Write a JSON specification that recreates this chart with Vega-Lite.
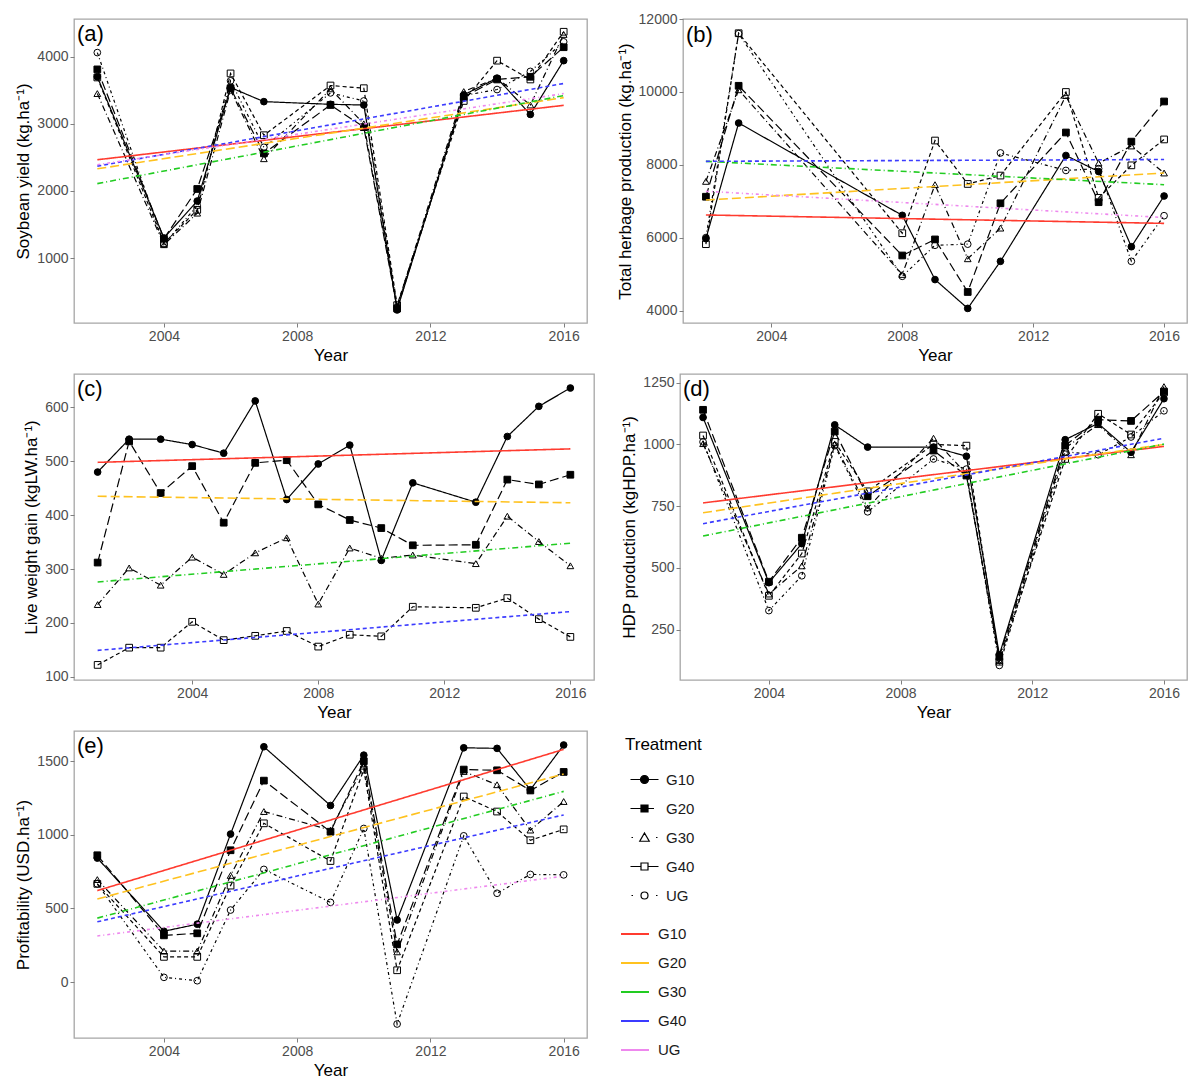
{
"$schema": "https://vega.github.io/schema/vega-lite/v6.json",
"padding": {"left": 14, "top": 11, "right": 0, "bottom": 0},
"background": "white",
"config": {
  "font": "Liberation Sans",
  "view": {"stroke": "#a6a6a6", "strokeWidth": 1.3},
  "axis": {"domain": false, "grid": false, "tickColor": "#7f7f7f", "tickSize": 4, "labelColor": "#4d4d4d", "labelFontSize": 14, "labelFont": "Liberation Sans", "titleFont": "Liberation Sans", "titleFontSize": 17, "titleFontWeight": "normal", "titleColor": "black", "labelPadding": 2, "titlePadding": 4, "labelFlush": false},
  "legend": {"labelFont": "Liberation Sans", "titleFont": "Liberation Sans"}
},
"datasets": {
"sa": [
{"Year":2002,"Treatment":"G10","Value":3700},{"Year":2004,"Treatment":"G10","Value":1300},{"Year":2005,"Treatment":"G10","Value":1850},{"Year":2006,"Treatment":"G10","Value":3540},{"Year":2007,"Treatment":"G10","Value":3330},{"Year":2009,"Treatment":"G10","Value":3290},{"Year":2010,"Treatment":"G10","Value":3280},{"Year":2011,"Treatment":"G10","Value":230},{"Year":2013,"Treatment":"G10","Value":3430},{"Year":2014,"Treatment":"G10","Value":3680},{"Year":2015,"Treatment":"G10","Value":3140},{"Year":2016,"Treatment":"G10","Value":3940},
{"Year":2002,"Treatment":"G20","Value":3810},{"Year":2004,"Treatment":"G20","Value":1290},{"Year":2005,"Treatment":"G20","Value":2030},{"Year":2006,"Treatment":"G20","Value":3530},{"Year":2007,"Treatment":"G20","Value":2560},{"Year":2009,"Treatment":"G20","Value":3280},{"Year":2010,"Treatment":"G20","Value":2950},{"Year":2011,"Treatment":"G20","Value":250},{"Year":2013,"Treatment":"G20","Value":3400},{"Year":2014,"Treatment":"G20","Value":3660},{"Year":2015,"Treatment":"G20","Value":3700},{"Year":2016,"Treatment":"G20","Value":4140},
{"Year":2002,"Treatment":"G30","Value":3450},{"Year":2004,"Treatment":"G30","Value":1200},{"Year":2005,"Treatment":"G30","Value":1670},{"Year":2006,"Treatment":"G30","Value":3500},{"Year":2007,"Treatment":"G30","Value":2480},{"Year":2009,"Treatment":"G30","Value":3520},{"Year":2010,"Treatment":"G30","Value":3000},{"Year":2011,"Treatment":"G30","Value":280},{"Year":2013,"Treatment":"G30","Value":3480},{"Year":2014,"Treatment":"G30","Value":3680},{"Year":2015,"Treatment":"G30","Value":3280},{"Year":2016,"Treatment":"G30","Value":4330},
{"Year":2002,"Treatment":"G40","Value":3690},{"Year":2004,"Treatment":"G40","Value":1220},{"Year":2005,"Treatment":"G40","Value":1720},{"Year":2006,"Treatment":"G40","Value":3750},{"Year":2007,"Treatment":"G40","Value":2830},{"Year":2009,"Treatment":"G40","Value":3570},{"Year":2010,"Treatment":"G40","Value":3530},{"Year":2011,"Treatment":"G40","Value":300},{"Year":2013,"Treatment":"G40","Value":3340},{"Year":2014,"Treatment":"G40","Value":3940},{"Year":2015,"Treatment":"G40","Value":3660},{"Year":2016,"Treatment":"G40","Value":4370},
{"Year":2002,"Treatment":"UG","Value":4060},{"Year":2004,"Treatment":"UG","Value":1210},{"Year":2005,"Treatment":"UG","Value":1780},{"Year":2006,"Treatment":"UG","Value":3640},{"Year":2007,"Treatment":"UG","Value":2650},{"Year":2009,"Treatment":"UG","Value":3460},{"Year":2010,"Treatment":"UG","Value":3340},{"Year":2011,"Treatment":"UG","Value":270},{"Year":2013,"Treatment":"UG","Value":3420},{"Year":2014,"Treatment":"UG","Value":3510},{"Year":2015,"Treatment":"UG","Value":3780},{"Year":2016,"Treatment":"UG","Value":4220}
],
"ta": [
{"Year":2002,"Trend":"G10","Value":2465},{"Year":2016,"Trend":"G10","Value":3275},
{"Year":2002,"Trend":"G20","Value":2330},{"Year":2016,"Trend":"G20","Value":3390},
{"Year":2002,"Trend":"G30","Value":2110},{"Year":2016,"Trend":"G30","Value":3420},
{"Year":2002,"Trend":"G40","Value":2370},{"Year":2016,"Trend":"G40","Value":3600},
{"Year":2002,"Trend":"UG","Value":2390},{"Year":2016,"Trend":"UG","Value":3450}
],
"sb": [
{"Year":2002,"Treatment":"G10","Value":5980},{"Year":2003,"Treatment":"G10","Value":9150},{"Year":2008,"Treatment":"G10","Value":6620},{"Year":2009,"Treatment":"G10","Value":4860},{"Year":2010,"Treatment":"G10","Value":4070},{"Year":2011,"Treatment":"G10","Value":5360},{"Year":2013,"Treatment":"G10","Value":8260},{"Year":2014,"Treatment":"G10","Value":7820},{"Year":2015,"Treatment":"G10","Value":5760},{"Year":2016,"Treatment":"G10","Value":7150},
{"Year":2002,"Treatment":"G20","Value":7130},{"Year":2003,"Treatment":"G20","Value":10170},{"Year":2008,"Treatment":"G20","Value":5520},{"Year":2009,"Treatment":"G20","Value":5960},{"Year":2010,"Treatment":"G20","Value":4520},{"Year":2011,"Treatment":"G20","Value":6950},{"Year":2013,"Treatment":"G20","Value":8890},{"Year":2014,"Treatment":"G20","Value":6980},{"Year":2015,"Treatment":"G20","Value":8640},{"Year":2016,"Treatment":"G20","Value":9740},
{"Year":2002,"Treatment":"G30","Value":7550},{"Year":2003,"Treatment":"G30","Value":10060},{"Year":2008,"Treatment":"G30","Value":5000},{"Year":2009,"Treatment":"G30","Value":7460},{"Year":2010,"Treatment":"G30","Value":5430},{"Year":2011,"Treatment":"G30","Value":6270},{"Year":2013,"Treatment":"G30","Value":9900},{"Year":2014,"Treatment":"G30","Value":8050},{"Year":2015,"Treatment":"G30","Value":8520},{"Year":2016,"Treatment":"G30","Value":7780},
{"Year":2002,"Treatment":"G40","Value":5830},{"Year":2003,"Treatment":"G40","Value":11610},{"Year":2008,"Treatment":"G40","Value":6130},{"Year":2009,"Treatment":"G40","Value":8670},{"Year":2010,"Treatment":"G40","Value":7480},{"Year":2011,"Treatment":"G40","Value":7710},{"Year":2013,"Treatment":"G40","Value":10000},{"Year":2014,"Treatment":"G40","Value":7100},{"Year":2015,"Treatment":"G40","Value":7990},{"Year":2016,"Treatment":"G40","Value":8700},
{"Year":2002,"Treatment":"UG","Value":6010},{"Year":2003,"Treatment":"UG","Value":11600},{"Year":2008,"Treatment":"UG","Value":4950},{"Year":2009,"Treatment":"UG","Value":5800},{"Year":2010,"Treatment":"UG","Value":5830},{"Year":2011,"Treatment":"UG","Value":8330},{"Year":2013,"Treatment":"UG","Value":7850},{"Year":2014,"Treatment":"UG","Value":7900},{"Year":2015,"Treatment":"UG","Value":5360},{"Year":2016,"Treatment":"UG","Value":6610}
],
"tb": [
{"Year":2002,"Trend":"G10","Value":6630},{"Year":2016,"Trend":"G10","Value":6400},
{"Year":2002,"Trend":"G20","Value":7040},{"Year":2016,"Trend":"G20","Value":7780},
{"Year":2002,"Trend":"G30","Value":8100},{"Year":2016,"Trend":"G30","Value":7460},
{"Year":2002,"Trend":"G40","Value":8100},{"Year":2016,"Trend":"G40","Value":8150},
{"Year":2002,"Trend":"UG","Value":7280},{"Year":2016,"Trend":"UG","Value":6560}
],
"sc": [
{"Year":2001,"Treatment":"G10","Value":480},{"Year":2002,"Treatment":"G10","Value":541},{"Year":2003,"Treatment":"G10","Value":541},{"Year":2004,"Treatment":"G10","Value":531},{"Year":2005,"Treatment":"G10","Value":515},{"Year":2006,"Treatment":"G10","Value":612},{"Year":2007,"Treatment":"G10","Value":429},{"Year":2008,"Treatment":"G10","Value":495},{"Year":2009,"Treatment":"G10","Value":530},{"Year":2010,"Treatment":"G10","Value":316},{"Year":2011,"Treatment":"G10","Value":460},{"Year":2013,"Treatment":"G10","Value":424},{"Year":2014,"Treatment":"G10","Value":546},{"Year":2015,"Treatment":"G10","Value":602},{"Year":2016,"Treatment":"G10","Value":636},
{"Year":2001,"Treatment":"G20","Value":312},{"Year":2002,"Treatment":"G20","Value":537},{"Year":2003,"Treatment":"G20","Value":441},{"Year":2004,"Treatment":"G20","Value":491},{"Year":2005,"Treatment":"G20","Value":386},{"Year":2006,"Treatment":"G20","Value":497},{"Year":2007,"Treatment":"G20","Value":502},{"Year":2008,"Treatment":"G20","Value":420},{"Year":2009,"Treatment":"G20","Value":391},{"Year":2010,"Treatment":"G20","Value":376},{"Year":2011,"Treatment":"G20","Value":344},{"Year":2013,"Treatment":"G20","Value":345},{"Year":2014,"Treatment":"G20","Value":466},{"Year":2015,"Treatment":"G20","Value":457},{"Year":2016,"Treatment":"G20","Value":475},
{"Year":2001,"Treatment":"G30","Value":234},{"Year":2002,"Treatment":"G30","Value":302},{"Year":2003,"Treatment":"G30","Value":270},{"Year":2004,"Treatment":"G30","Value":322},{"Year":2005,"Treatment":"G30","Value":290},{"Year":2006,"Treatment":"G30","Value":330},{"Year":2007,"Treatment":"G30","Value":358},{"Year":2008,"Treatment":"G30","Value":235},{"Year":2009,"Treatment":"G30","Value":339},{"Year":2010,"Treatment":"G30","Value":320},{"Year":2011,"Treatment":"G30","Value":326},{"Year":2013,"Treatment":"G30","Value":310},{"Year":2014,"Treatment":"G30","Value":398},{"Year":2015,"Treatment":"G30","Value":351},{"Year":2016,"Treatment":"G30","Value":306},
{"Year":2001,"Treatment":"G40","Value":122},{"Year":2002,"Treatment":"G40","Value":154},{"Year":2003,"Treatment":"G40","Value":154},{"Year":2004,"Treatment":"G40","Value":202},{"Year":2005,"Treatment":"G40","Value":168},{"Year":2006,"Treatment":"G40","Value":176},{"Year":2007,"Treatment":"G40","Value":185},{"Year":2008,"Treatment":"G40","Value":156},{"Year":2009,"Treatment":"G40","Value":178},{"Year":2010,"Treatment":"G40","Value":175},{"Year":2011,"Treatment":"G40","Value":230},{"Year":2013,"Treatment":"G40","Value":228},{"Year":2014,"Treatment":"G40","Value":246},{"Year":2015,"Treatment":"G40","Value":207},{"Year":2016,"Treatment":"G40","Value":174}
],
"tc": [
{"Year":2001,"Trend":"G10","Value":498},{"Year":2016,"Trend":"G10","Value":523},
{"Year":2001,"Trend":"G20","Value":435},{"Year":2016,"Trend":"G20","Value":423},
{"Year":2001,"Trend":"G30","Value":276},{"Year":2016,"Trend":"G30","Value":348},
{"Year":2001,"Trend":"G40","Value":149},{"Year":2016,"Trend":"G40","Value":221}
],
"sd": [
{"Year":2002,"Treatment":"G10","Value":1109},{"Year":2004,"Treatment":"G10","Value":440},{"Year":2005,"Treatment":"G10","Value":598},{"Year":2006,"Treatment":"G10","Value":1079},{"Year":2007,"Treatment":"G10","Value":989},{"Year":2009,"Treatment":"G10","Value":989},{"Year":2010,"Treatment":"G10","Value":952},{"Year":2011,"Treatment":"G10","Value":148},{"Year":2013,"Treatment":"G10","Value":1019},{"Year":2014,"Treatment":"G10","Value":1085},{"Year":2015,"Treatment":"G10","Value":968},{"Year":2016,"Treatment":"G10","Value":1185},
{"Year":2002,"Treatment":"G20","Value":1140},{"Year":2004,"Treatment":"G20","Value":444},{"Year":2005,"Treatment":"G20","Value":622},{"Year":2006,"Treatment":"G20","Value":1052},{"Year":2007,"Treatment":"G20","Value":790},{"Year":2009,"Treatment":"G20","Value":975},{"Year":2010,"Treatment":"G20","Value":874},{"Year":2011,"Treatment":"G20","Value":140},{"Year":2013,"Treatment":"G20","Value":995},{"Year":2014,"Treatment":"G20","Value":1100},{"Year":2015,"Treatment":"G20","Value":1095},{"Year":2016,"Treatment":"G20","Value":1214},
{"Year":2002,"Treatment":"G30","Value":1003},{"Year":2004,"Treatment":"G30","Value":394},{"Year":2005,"Treatment":"G30","Value":508},{"Year":2006,"Treatment":"G30","Value":1000},{"Year":2007,"Treatment":"G30","Value":743},{"Year":2009,"Treatment":"G30","Value":1025},{"Year":2010,"Treatment":"G30","Value":880},{"Year":2011,"Treatment":"G30","Value":125},{"Year":2013,"Treatment":"G30","Value":985},{"Year":2014,"Treatment":"G30","Value":1080},{"Year":2015,"Treatment":"G30","Value":958},{"Year":2016,"Treatment":"G30","Value":1234},
{"Year":2002,"Treatment":"G40","Value":1036},{"Year":2004,"Treatment":"G40","Value":387},{"Year":2005,"Treatment":"G40","Value":558},{"Year":2006,"Treatment":"G40","Value":1010},{"Year":2007,"Treatment":"G40","Value":810},{"Year":2009,"Treatment":"G40","Value":1000},{"Year":2010,"Treatment":"G40","Value":995},{"Year":2011,"Treatment":"G40","Value":120},{"Year":2013,"Treatment":"G40","Value":941},{"Year":2014,"Treatment":"G40","Value":1124},{"Year":2015,"Treatment":"G40","Value":1040},{"Year":2016,"Treatment":"G40","Value":1210},
{"Year":2002,"Treatment":"UG","Value":1010},{"Year":2004,"Treatment":"UG","Value":327},{"Year":2005,"Treatment":"UG","Value":468},{"Year":2006,"Treatment":"UG","Value":995},{"Year":2007,"Treatment":"UG","Value":727},{"Year":2009,"Treatment":"UG","Value":941},{"Year":2010,"Treatment":"UG","Value":900},{"Year":2011,"Treatment":"UG","Value":105},{"Year":2013,"Treatment":"UG","Value":970},{"Year":2014,"Treatment":"UG","Value":958},{"Year":2015,"Treatment":"UG","Value":1030},{"Year":2016,"Treatment":"UG","Value":1136}
],
"td": [
{"Year":2002,"Trend":"G10","Value":763},{"Year":2016,"Trend":"G10","Value":992},
{"Year":2002,"Trend":"G20","Value":723},{"Year":2016,"Trend":"G20","Value":1000},
{"Year":2002,"Trend":"G30","Value":629},{"Year":2016,"Trend":"G30","Value":1001},
{"Year":2002,"Trend":"G40","Value":679},{"Year":2016,"Trend":"G40","Value":1025},
{"Year":2002,"Trend":"UG","Value":653},{"Year":2016,"Trend":"UG","Value":944}
],
"se": [
{"Year":2002,"Treatment":"G10","Value":842},{"Year":2004,"Treatment":"G10","Value":345},{"Year":2005,"Treatment":"G10","Value":393},{"Year":2006,"Treatment":"G10","Value":1005},{"Year":2007,"Treatment":"G10","Value":1598},{"Year":2009,"Treatment":"G10","Value":1199},{"Year":2010,"Treatment":"G10","Value":1541},{"Year":2011,"Treatment":"G10","Value":422},{"Year":2013,"Treatment":"G10","Value":1591},{"Year":2014,"Treatment":"G10","Value":1587},{"Year":2015,"Treatment":"G10","Value":1306},{"Year":2016,"Treatment":"G10","Value":1610},
{"Year":2002,"Treatment":"G20","Value":861},{"Year":2004,"Treatment":"G20","Value":317},{"Year":2005,"Treatment":"G20","Value":331},{"Year":2006,"Treatment":"G20","Value":895},{"Year":2007,"Treatment":"G20","Value":1368},{"Year":2009,"Treatment":"G20","Value":1021},{"Year":2010,"Treatment":"G20","Value":1500},{"Year":2011,"Treatment":"G20","Value":256},{"Year":2013,"Treatment":"G20","Value":1443},{"Year":2014,"Treatment":"G20","Value":1438},{"Year":2015,"Treatment":"G20","Value":1301},{"Year":2016,"Treatment":"G20","Value":1427},
{"Year":2002,"Treatment":"G30","Value":696},{"Year":2004,"Treatment":"G30","Value":210},{"Year":2005,"Treatment":"G30","Value":210},{"Year":2006,"Treatment":"G30","Value":724},{"Year":2007,"Treatment":"G30","Value":1158},{"Year":2009,"Treatment":"G30","Value":1032},{"Year":2010,"Treatment":"G30","Value":1466},{"Year":2011,"Treatment":"G30","Value":205},{"Year":2013,"Treatment":"G30","Value":1430},{"Year":2014,"Treatment":"G30","Value":1340},{"Year":2015,"Treatment":"G30","Value":1032},{"Year":2016,"Treatment":"G30","Value":1226},
{"Year":2002,"Treatment":"G40","Value":667},{"Year":2004,"Treatment":"G40","Value":171},{"Year":2005,"Treatment":"G40","Value":171},{"Year":2006,"Treatment":"G40","Value":655},{"Year":2007,"Treatment":"G40","Value":1078},{"Year":2009,"Treatment":"G40","Value":822},{"Year":2010,"Treatment":"G40","Value":1443},{"Year":2011,"Treatment":"G40","Value":80},{"Year":2013,"Treatment":"G40","Value":1260},{"Year":2014,"Treatment":"G40","Value":1158},{"Year":2015,"Treatment":"G40","Value":963},{"Year":2016,"Treatment":"G40","Value":1037},
{"Year":2002,"Treatment":"UG","Value":667},{"Year":2004,"Treatment":"UG","Value":32},{"Year":2005,"Treatment":"UG","Value":9},{"Year":2006,"Treatment":"UG","Value":489},{"Year":2007,"Treatment":"UG","Value":765},{"Year":2009,"Treatment":"UG","Value":541},{"Year":2010,"Treatment":"UG","Value":1043},{"Year":2011,"Treatment":"UG","Value":-285},{"Year":2013,"Treatment":"UG","Value":993},{"Year":2014,"Treatment":"UG","Value":603},{"Year":2015,"Treatment":"UG","Value":731},{"Year":2016,"Treatment":"UG","Value":728}
],
"te": [
{"Year":2002,"Trend":"G10","Value":621},{"Year":2016,"Trend":"G10","Value":1580},
{"Year":2002,"Trend":"G20","Value":564},{"Year":2016,"Trend":"G20","Value":1413},
{"Year":2002,"Trend":"G30","Value":434},{"Year":2016,"Trend":"G30","Value":1295},
{"Year":2002,"Trend":"G40","Value":409},{"Year":2016,"Trend":"G40","Value":1135},
{"Year":2002,"Trend":"UG","Value":313},{"Year":2016,"Trend":"UG","Value":719}
]
},
"resolve": {"scale": {"color": "independent", "shape": "independent", "fill": "independent", "strokeDash": "independent"}, "legend": {"color": "independent", "shape": "independent", "fill": "independent", "strokeDash": "independent"}},
"spacing": 9,
"vconcat": [
{
 "hconcat": [
  {
   "width": 513, "height": 304,
   "title": {"text": "(a)", "anchor": "start", "frame": "group", "orient": "top", "offset": -27, "dx": 3, "fontSize": 22, "fontWeight": "normal", "color": "black"},
   "layer": [
    {"data": {"name": "sa"}, "mark": {"type": "point", "stroke": "black", "strokeWidth": 1, "size": 45, "opacity": 1},
     "encoding": {
      "x": {"field": "Year", "type": "quantitative", "scale": {"domain": [2001.3, 2016.7], "nice": false, "zero": false}, "axis": {"title": "Year", "values": [2004, 2008, 2012, 2016], "format": "d"}},
      "y": {"field": "Value", "type": "quantitative", "scale": {"domain": [35, 4560], "nice": false, "zero": false}, "axis": {"title": "Soybean yield (kg.ha⁻¹)", "values": [1000, 2000, 3000, 4000], "format": "d"}},
      "shape": {"field": "Treatment", "type": "nominal", "scale": {"domain": ["G10","G20","G30","G40","UG"], "range": ["circle","square","triangle-up","square","circle"]}, "legend": null},
      "fill": {"field": "Treatment", "type": "nominal", "scale": {"domain": ["G10","G20","G30","G40","UG"], "range": ["black","black","transparent","transparent","transparent"]}, "legend": null}
     }},
    {"data": {"name": "sa"}, "mark": {"type": "line", "color": "black", "strokeWidth": 1.2},
     "encoding": {
      "x": {"field": "Year", "type": "quantitative", "scale": {"domain": [2001.3, 2016.7], "nice": false, "zero": false}},
      "y": {"field": "Value", "type": "quantitative", "scale": {"domain": [35, 4560], "nice": false, "zero": false}},
      "detail": {"field": "Treatment"},
      "strokeDash": {"field": "Treatment", "type": "nominal", "scale": {"domain": ["G10","G20","G30","G40","UG"], "range": [[1,0],[9,4],[6,3,1,3],[4,3],[3,3,1,3]]}, "legend": null}
     }},
    {"data": {"name": "ta"}, "mark": {"type": "line", "strokeWidth": 1.6},
     "encoding": {
      "x": {"field": "Year", "type": "quantitative", "scale": {"domain": [2001.3, 2016.7], "nice": false, "zero": false}},
      "y": {"field": "Value", "type": "quantitative", "scale": {"domain": [35, 4560], "nice": false, "zero": false}},
      "color": {"field": "Trend", "type": "nominal", "scale": {"range": ["#ff3b2f","#ffc21f","#22cc22","#3b3bff","#ee88ee"]}, "legend": null},
      "strokeDash": {"field": "Trend", "type": "nominal", "scale": {"domain": ["G10","G20","G30","G40","UG"], "range": [[1,0],[9,4],[6,3,1,3],[4,3],[3,3,1,3]]}, "legend": null}
     }}
   ]
  },
  {
   "width": 504, "height": 304,
   "title": {"text": "(b)", "anchor": "start", "frame": "group", "orient": "top", "offset": -35, "dx": 3, "fontSize": 22, "fontWeight": "normal", "color": "black"},
   "layer": [
    {"data": {"name": "sb"}, "mark": {"type": "point", "stroke": "black", "strokeWidth": 1, "size": 45, "opacity": 1},
     "encoding": {
      "x": {"field": "Year", "type": "quantitative", "scale": {"domain": [2001.3, 2016.7], "nice": false, "zero": false}, "axis": {"title": "Year", "values": [2004, 2008, 2012, 2016], "format": "d"}},
      "y": {"field": "Value", "type": "quantitative", "scale": {"domain": [3670, 12000], "nice": false, "zero": false}, "axis": {"title": "Total herbage production (kg.ha⁻¹)", "values": [4000, 6000, 8000, 10000, 12000], "format": "d"}},
      "shape": {"field": "Treatment", "type": "nominal", "scale": {"domain": ["G10","G20","G30","G40","UG"], "range": ["circle","square","triangle-up","square","circle"]}, "legend": null},
      "fill": {"field": "Treatment", "type": "nominal", "scale": {"domain": ["G10","G20","G30","G40","UG"], "range": ["black","black","transparent","transparent","transparent"]}, "legend": null}
     }},
    {"data": {"name": "sb"}, "mark": {"type": "line", "color": "black", "strokeWidth": 1.2},
     "encoding": {
      "x": {"field": "Year", "type": "quantitative", "scale": {"domain": [2001.3, 2016.7], "nice": false, "zero": false}},
      "y": {"field": "Value", "type": "quantitative", "scale": {"domain": [3670, 12000], "nice": false, "zero": false}},
      "detail": {"field": "Treatment"},
      "strokeDash": {"field": "Treatment", "type": "nominal", "scale": {"domain": ["G10","G20","G30","G40","UG"], "range": [[1,0],[9,4],[6,3,1,3],[4,3],[3,3,1,3]]}, "legend": null}
     }},
    {"data": {"name": "tb"}, "mark": {"type": "line", "strokeWidth": 1.6},
     "encoding": {
      "x": {"field": "Year", "type": "quantitative", "scale": {"domain": [2001.3, 2016.7], "nice": false, "zero": false}},
      "y": {"field": "Value", "type": "quantitative", "scale": {"domain": [3670, 12000], "nice": false, "zero": false}},
      "color": {"field": "Trend", "type": "nominal", "scale": {"range": ["#ff3b2f","#ffc21f","#22cc22","#3b3bff","#ee88ee"]}, "legend": null},
      "strokeDash": {"field": "Trend", "type": "nominal", "scale": {"domain": ["G10","G20","G30","G40","UG"], "range": [[1,0],[9,4],[6,3,1,3],[4,3],[3,3,1,3]]}, "legend": null}
     }}
   ]
  }
 ],
 "bounds": "flush",
 "spacing": 96
},
{
 "hconcat": [
  {
   "width": 520, "height": 306,
   "title": {"text": "(c)", "anchor": "start", "frame": "group", "orient": "top", "offset": -27, "dx": 3, "fontSize": 22, "fontWeight": "normal", "color": "black"},
   "layer": [
    {"data": {"name": "sc"}, "mark": {"type": "point", "stroke": "black", "strokeWidth": 1, "size": 45, "opacity": 1},
     "encoding": {
      "x": {"field": "Year", "type": "quantitative", "scale": {"domain": [2000.25, 2016.75], "nice": false, "zero": false}, "axis": {"title": "Year", "values": [2004, 2008, 2012, 2016], "format": "d"}},
      "y": {"field": "Value", "type": "quantitative", "scale": {"domain": [94, 662], "nice": false, "zero": false}, "axis": {"title": "Live weight gain (kgLW.ha⁻¹)", "values": [100, 200, 300, 400, 500, 600], "format": "d"}},
      "shape": {"field": "Treatment", "type": "nominal", "scale": {"domain": ["G10","G20","G30","G40","UG"], "range": ["circle","square","triangle-up","square","circle"]}, "legend": null},
      "fill": {"field": "Treatment", "type": "nominal", "scale": {"domain": ["G10","G20","G30","G40","UG"], "range": ["black","black","transparent","transparent","transparent"]}, "legend": null}
     }},
    {"data": {"name": "sc"}, "mark": {"type": "line", "color": "black", "strokeWidth": 1.2},
     "encoding": {
      "x": {"field": "Year", "type": "quantitative", "scale": {"domain": [2000.25, 2016.75], "nice": false, "zero": false}},
      "y": {"field": "Value", "type": "quantitative", "scale": {"domain": [94, 662], "nice": false, "zero": false}},
      "detail": {"field": "Treatment"},
      "strokeDash": {"field": "Treatment", "type": "nominal", "scale": {"domain": ["G10","G20","G30","G40","UG"], "range": [[1,0],[9,4],[6,3,1,3],[4,3],[3,3,1,3]]}, "legend": null}
     }},
    {"data": {"name": "tc"}, "mark": {"type": "line", "strokeWidth": 1.6},
     "encoding": {
      "x": {"field": "Year", "type": "quantitative", "scale": {"domain": [2000.25, 2016.75], "nice": false, "zero": false}},
      "y": {"field": "Value", "type": "quantitative", "scale": {"domain": [94, 662], "nice": false, "zero": false}},
      "color": {"field": "Trend", "type": "nominal", "scale": {"domain": ["G10","G20","G30","G40"], "range": ["#ff3b2f","#ffc21f","#22cc22","#3b3bff"]}, "legend": null},
      "strokeDash": {"field": "Trend", "type": "nominal", "scale": {"domain": ["G10","G20","G30","G40","UG"], "range": [[1,0],[9,4],[6,3,1,3],[4,3],[3,3,1,3]]}, "legend": null}
     }}
   ]
  },
  {
   "width": 507, "height": 306,
   "title": {"text": "(d)", "anchor": "start", "frame": "group", "orient": "top", "offset": -27, "dx": 3, "fontSize": 22, "fontWeight": "normal", "color": "black"},
   "layer": [
    {"data": {"name": "sd"}, "mark": {"type": "point", "stroke": "black", "strokeWidth": 1, "size": 45, "opacity": 1},
     "encoding": {
      "x": {"field": "Year", "type": "quantitative", "scale": {"domain": [2001.3, 2016.7], "nice": false, "zero": false}, "axis": {"title": "Year", "values": [2004, 2008, 2012, 2016], "format": "d"}},
      "y": {"field": "Value", "type": "quantitative", "scale": {"domain": [46, 1285], "nice": false, "zero": false}, "axis": {"title": "HDP production (kgHDP.ha⁻¹)", "values": [250, 500, 750, 1000, 1250], "format": "d"}},
      "shape": {"field": "Treatment", "type": "nominal", "scale": {"domain": ["G10","G20","G30","G40","UG"], "range": ["circle","square","triangle-up","square","circle"]}, "legend": null},
      "fill": {"field": "Treatment", "type": "nominal", "scale": {"domain": ["G10","G20","G30","G40","UG"], "range": ["black","black","transparent","transparent","transparent"]}, "legend": null}
     }},
    {"data": {"name": "sd"}, "mark": {"type": "line", "color": "black", "strokeWidth": 1.2},
     "encoding": {
      "x": {"field": "Year", "type": "quantitative", "scale": {"domain": [2001.3, 2016.7], "nice": false, "zero": false}},
      "y": {"field": "Value", "type": "quantitative", "scale": {"domain": [46, 1285], "nice": false, "zero": false}},
      "detail": {"field": "Treatment"},
      "strokeDash": {"field": "Treatment", "type": "nominal", "scale": {"domain": ["G10","G20","G30","G40","UG"], "range": [[1,0],[9,4],[6,3,1,3],[4,3],[3,3,1,3]]}, "legend": null}
     }},
    {"data": {"name": "td"}, "mark": {"type": "line", "strokeWidth": 1.6},
     "encoding": {
      "x": {"field": "Year", "type": "quantitative", "scale": {"domain": [2001.3, 2016.7], "nice": false, "zero": false}},
      "y": {"field": "Value", "type": "quantitative", "scale": {"domain": [46, 1285], "nice": false, "zero": false}},
      "color": {"field": "Trend", "type": "nominal", "scale": {"range": ["#ff3b2f","#ffc21f","#22cc22","#3b3bff","#ee88ee"]}, "legend": null},
      "strokeDash": {"field": "Trend", "type": "nominal", "scale": {"domain": ["G10","G20","G30","G40","UG"], "range": [[1,0],[9,4],[6,3,1,3],[4,3],[3,3,1,3]]}, "legend": null}
     }}
   ]
  }
 ],
 "bounds": "flush",
 "spacing": 86
},
{
 "width": 513, "height": 307,
 "title": {"text": "(e)", "anchor": "start", "frame": "group", "orient": "top", "offset": -27, "dx": 3, "fontSize": 22, "fontWeight": "normal", "color": "black"},
 "layer": [
  {"data": {"name": "se"}, "mark": {"type": "point", "stroke": "black", "strokeWidth": 1, "size": 45, "opacity": 1},
   "encoding": {
    "x": {"field": "Year", "type": "quantitative", "scale": {"domain": [2001.3, 2016.7], "nice": false, "zero": false}, "axis": {"title": "Year", "values": [2004, 2008, 2012, 2016], "format": "d"}},
    "y": {"field": "Value", "type": "quantitative", "scale": {"domain": [-380, 1705], "nice": false, "zero": false}, "axis": {"title": "Profitability (USD.ha⁻¹)", "values": [0, 500, 1000, 1500], "format": "d"}},
    "shape": {"field": "Treatment", "type": "nominal", "scale": {"domain": ["G10","G20","G30","G40","UG"], "range": ["circle","square","triangle-up","square","circle"]}, "legend": null},
    "fill": {"field": "Treatment", "type": "nominal", "scale": {"range": ["black","black","transparent","transparent","transparent"]},
      "legend": {"title": "Treatment", "titleFontSize": 17, "titleFontWeight": "normal", "titleColor": "black", "titlePadding": 18, "labelFontSize": 15, "labelColor": "#1a1a1a", "symbolSize": 100, "symbolStrokeWidth": 1.2, "symbolStrokeColor": "black", "symbolOffset": 12, "labelOffset": 14, "rowPadding": 13, "offset": 6, "padding": 6,
        "symbolType": {"expr": "datum.value === 'G10' ? 'M-2.8,0H2.8M-0.8,0A0.8,0.8,0,1,0,0.8,0A0.8,0.8,0,1,0,-0.8,0Z' : datum.value === 'G20' ? 'M-2.8,0H-0.7M0.7,0H1.9M-0.7,-0.7H0.7V0.7H-0.7Z' : datum.value === 'G30' ? 'M-2.6,0H-2.3M2.3,0H2.6M0,-0.9L0.95,0.75H-0.95Z' : datum.value === 'G40' ? 'M-2.8,0H-0.7M0.7,0H2.8M-0.7,-0.7H0.7V0.7H-0.7Z' : 'M-2.6,0H-2.3M2.3,0H2.6M-0.7,0A0.7,0.7,0,1,0,0.7,0A0.7,0.7,0,1,0,-0.7,0Z'"}}}
   }},
  {"data": {"name": "se"}, "mark": {"type": "line", "color": "black", "strokeWidth": 1.2},
   "encoding": {
    "x": {"field": "Year", "type": "quantitative", "scale": {"domain": [2001.3, 2016.7], "nice": false, "zero": false}},
    "y": {"field": "Value", "type": "quantitative", "scale": {"domain": [-380, 1705], "nice": false, "zero": false}},
    "detail": {"field": "Treatment"},
    "strokeDash": {"field": "Treatment", "type": "nominal", "scale": {"domain": ["G10","G20","G30","G40","UG"], "range": [[1,0],[9,4],[6,3,1,3],[4,3],[3,3,1,3]]}, "legend": null}
   }},
  {"data": {"name": "te"}, "mark": {"type": "line", "strokeWidth": 1.6},
   "encoding": {
    "x": {"field": "Year", "type": "quantitative", "scale": {"domain": [2001.3, 2016.7], "nice": false, "zero": false}},
    "y": {"field": "Value", "type": "quantitative", "scale": {"domain": [-380, 1705], "nice": false, "zero": false}},
    "color": {"field": "Trend", "type": "nominal", "scale": {"range": ["#ff3b2f","#ffc21f","#22cc22","#3b3bff","#ee88ee"]},
      "legend": {"title": null, "labelFontSize": 15, "labelColor": "#1a1a1a", "symbolType": "stroke", "symbolSize": 784, "symbolStrokeWidth": 2, "symbolOffset": 0, "labelOffset": 8, "rowPadding": 6, "offset": 32, "padding": 1}},
    "strokeDash": {"field": "Trend", "type": "nominal", "scale": {"domain": ["G10","G20","G30","G40","UG"], "range": [[1,0],[9,4],[6,3,1,3],[4,3],[3,3,1,3]]}, "legend": null}
   }}
 ]
}
]
}
